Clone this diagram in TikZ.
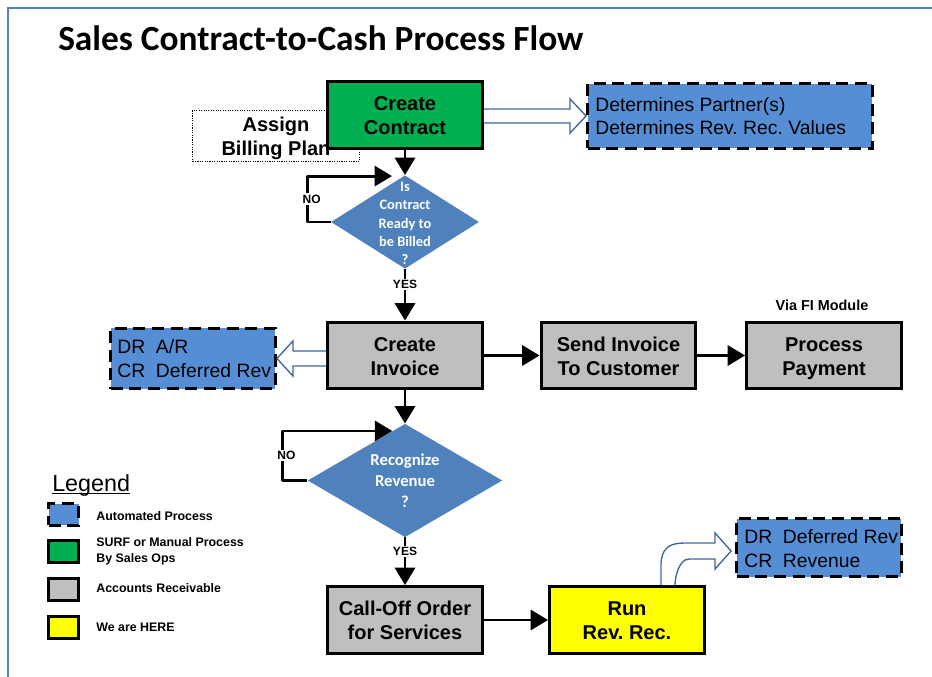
\documentclass[tikz,border=0pt]{standalone}
\usepackage{fontspec}
\setmainfont{Liberation Sans}
\newfontfamily\califont{Carlito}
\usetikzlibrary{calc,shapes.geometric,arrows.meta}

\definecolor{procgreen}{HTML}{00B050}
\definecolor{procgray}{HTML}{BFBFBF}
\definecolor{procyellow}{HTML}{FFFF00}
\definecolor{autoblue}{HTML}{558ED5}
\definecolor{decblue}{HTML}{4F81BD}
\definecolor{hollowblue}{HTML}{41659A}
\definecolor{frameblue}{HTML}{4F81BD}

\tikzset{
  twolines/.style={text height=33pt, text depth=3.5pt},
  procbox/.style={draw, line width=2.4pt, minimum width=116pt, minimum height=50pt,
    align=center, inner sep=2pt, font=\bfseries\frenchspacing\fontsize{15}{18}\selectfont, twolines},
  autobox/.style={draw, fill=autoblue, line width=2.4pt, dash pattern=on 9pt off 5pt, inner sep=0pt},
  autotext/.style={anchor=west, align=left, inner sep=0pt, font=\frenchspacing\fontsize{14.5}{17.5}\selectfont},
  decision/.style={diamond, fill=decblue, inner sep=0pt},
  dtext/.style={text=white, align=center, inner sep=0pt},
  flow/.style={line width=2.2pt, line join=round, -{Triangle[length=13pt,width=15pt]}},
  hollow/.style={draw=hollowblue, line width=1pt, fill=white, line join=miter},
  lbl/.style={fill=white, inner sep=1pt, font=\bfseries\fontsize{9}{10}\selectfont},
  legbox/.style={draw, line width=2.4pt, minimum width=22.5pt, minimum height=16pt, inner sep=0pt},
  legtext/.style={anchor=west, align=left, inner sep=0pt, font=\bfseries\fontsize{9.3}{12}\selectfont}
}

\begin{document}
\begin{tikzpicture}[x=0.75pt, y=-0.75pt]
  \useasboundingbox (0,0) rectangle (932,677);
  % frame and title
  \draw[frameblue, line width=1.5pt] (8,677) -- (8,8) -- (932,8);
  \node[anchor=base west, inner sep=0pt, font=\califont\bfseries\fontsize{26.5}{30}\selectfont] (title) at (58,51) {Sales Contract-to-Cash Process Flow};

  % boxes
  \node[draw, densely dotted, line width=0.8pt, minimum width=125pt, minimum height=38pt, align=center,
    inner sep=0pt, font=\bfseries\fontsize{15}{17.5}\selectfont, text height=32.3pt, text depth=3.5pt]
    (billing) at (276,136) {Assign\\Billing Plan};
  \node[procbox, fill=procgreen] (contract) at (405,115) {Create\\Contract};
  \node[autobox, minimum width=213.5pt, minimum height=48.5pt] (determ) at (730,116) {};
  \node[autotext] (determtxt) at ($(determ.west)+(9,0)$) {Determines Partner(s)\\Determines Rev. Rec. Values};
  \node[decision, minimum width=111pt, minimum height=70pt] (ready) at (405,222) {};
  \node[dtext, font=\califont\bfseries\fontsize{10.8}{13.7}\selectfont] (readytxt) at ($(ready)+(0,1.5)$)
    {Is\\Contract\\Ready to\\be Billed\\?};
  \node[procbox, fill=procgray] (invoice) at (405,355.5) {Create\\Invoice};
  \node[autobox, minimum width=123.5pt, minimum height=45pt] (drar) at (193,358.5) {};
  \node[autotext] (drartxt) at ($(drar.west)+(8,0)$) {DR~~A/R\\CR~~Deferred Rev};
  \node[procbox, fill=procgray] (send) at (618.5,355.5) {Send Invoice\\To Customer};
  \node[procbox, fill=procgray] (payment) at (824,355.5) {Process\\Payment};
  \node[font=\bfseries\fontsize{10.8}{12}\selectfont] (viafi) at (822,305) {Via FI Module};
  \node[decision, minimum width=146pt, minimum height=85pt] (recog) at (405,480.5) {};
  \node[dtext, font=\califont\bfseries\fontsize{12.5}{15.75}\selectfont] (recogtxt) at ($(recog)+(0,0.5)$)
    {Recognize\\Revenue\\?};
  \node[procbox, fill=procgray] (calloff) at (405,620) {Call-Off Order\\for Services};
  \node[procbox, fill=procyellow] (runrev) at (627,620) {Run\\Rev. Rec.};
  \node[autobox, minimum width=123.5pt, minimum height=43.5pt] (drdef) at (819,547.5) {};
  \node[autotext] (drdeftxt) at ($(drdef.west)+(9,1)$) {DR~~Deferred Rev\\CR~~Revenue};

  % connectors
  \draw[flow] (contract.south) -- (ready.north);
  \coordinate (readyin) at ($(ready.north)+(-13,1)$);
  \draw[flow] (ready.west) -- ++(-23,0) |- node[lbl, pos=0.25, xshift=3pt] (nolbl1) {NO} (readyin);
  \draw[flow] (ready.south) -- node[lbl, pos=0.3] (yeslbl1) {YES} (invoice.north);
  \draw[flow] (invoice.east) -- (send.west);
  \draw[flow] (send.east) -- (payment.west);
  \draw[flow] (invoice.south) -- (recog.north);
  \coordinate (recogin) at ($(recog.north)!0.13!(recog.west)$);
  \draw[flow] (recog.west) -- ++(-25,0) |- node[lbl, pos=0.25, xshift=3pt] (nolbl2) {NO} (recogin);
  \draw[flow] (recog.south) -- node[lbl, pos=0.29] (yeslbl2) {YES} (calloff.north);
  \draw[flow] (calloff.east) -- (runrev.west);

  % hollow arrows
  \draw[hollow] ($(contract.east|-determ.west)+(0,-7)$) -- ($(determ.west)+(-16,-7)$) -- ++(0,-10)
    -- (determ.west) -- ($(determ.west)+(-16,17)$) -- ++(0,-10) -- ($(contract.east|-determ.west)+(0,7)$);
  \draw[hollow] ($(invoice.west|-drar.east)+(0,-7.5)$) -- ($(drar.east)+(16,-7.5)$) -- ++(0,-10)
    -- (drar.east) -- ($(drar.east)+(16,17.5)$) -- ++(0,-10) -- ($(invoice.west|-drar.east)+(0,7.5)$);
  \draw[hollow] ($(runrev.north)+(34,0)$) -- ++(0,-20) .. controls +(0,-16) and +(-14,0) .. ++(22,-22)
    -- ($(drdef.west)+(-20,-4.5)$) -- ++(0,-10) -- ($(drdef.west)+(-4,3.5)$)
    -- ($(drdef.west)+(-20,21.5)$) -- ++(0,-10) -- ($(runrev.north)+(62,-26)$)
    .. controls +(-10,0) and +(0,-8) .. ($(runrev.north)+(48,0)$);

  % legend
  \node[anchor=base west, inner sep=0pt, font=\fontsize{17.5}{20}\selectfont] (legend) at (52,491) {Legend};
  \draw[line width=1pt] ($(legend.base west)+(0,2.5)$) -- ($(legend.base east)+(0,2.5)$);
  \node[legbox, fill=autoblue, dash pattern=on 9pt off 5pt] (legauto) at (63.5,514.5) {};
  \node[legbox, fill=procgreen] (legsurf) at (63.5,551.5) {};
  \node[legbox, fill=procgray] (legar) at (63.5,589.5) {};
  \node[legbox, fill=procyellow] (leghere) at (63.5,627.5) {};
  \node[legtext] (legautotxt) at ($(legauto.east)+(16,1.5)$) {Automated Process};
  \node[legtext] (legsurftxt) at ($(legsurf.east)+(16,0)$) {SURF or Manual Process\\By Sales Ops};
  \node[legtext] (legartxt) at ($(legar.east)+(16,-1)$) {Accounts Receivable};
  \node[legtext] (legheretxt) at ($(leghere.east)+(16,0)$) {We are HERE};
\end{tikzpicture}
\end{document}
